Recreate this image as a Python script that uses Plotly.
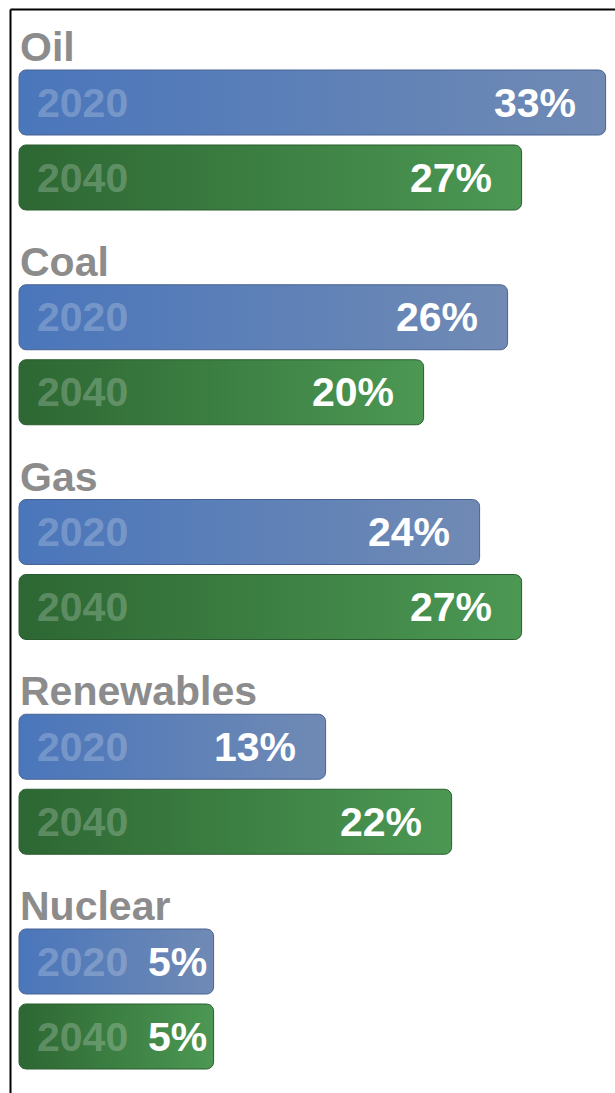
import numpy as np
import plotly.graph_objects as go

# ---- data ----
categories = ["Oil", "Coal", "Gas", "Renewables", "Nuclear"]
years = ["2020", "2040"]
share_2020 = [33, 26, 24, 13, 5]
share_2040 = [27, 20, 27, 22, 5]

# ---- style / layout constants ----
W, H = 615, 1093
BASE = -8.9            # bars start here (room for year label)
PX_PER_UNIT = 14.0
LEFT_PX = 19
X0 = BASE - LEFT_PX / PX_PER_UNIT
X1 = X0 + W / PX_PER_UNIT
GROUP_TOP0 = 70
GROUP_PITCH = 214.75
BAR_H = 65
BAR_GAP = 75
RADIUS = 7

FONT = "Liberation Sans, Arial, Helvetica, sans-serif"
grad = {
    "2020": dict(colorscale=[[0, "#4a76bb"], [1, "#708ab4"]], line="#4a6391"),
    "2040": dict(colorscale=[[0, "#2d6733"], [1, "#4c9853"]], line="#2b5c2f"),
}


def rounded_rect(x0, x1, y0, y1, r_px):
    rx = r_px / PX_PER_UNIT
    ry = r_px
    t = np.linspace(0, np.pi / 2, 8)
    xs, ys = [], []
    cx, cy = x1 - rx, y0 + ry
    xs += list(cx + rx * np.sin(t)); ys += list(cy - ry * np.cos(t))
    cx, cy = x1 - rx, y1 - ry
    xs += list(cx + rx * np.cos(t)); ys += list(cy + ry * np.sin(t))
    cx, cy = x0 + rx, y1 - ry
    xs += list(cx - rx * np.sin(t)); ys += list(cy + ry * np.cos(t))
    cx, cy = x0 + rx, y0 + ry
    xs += list(cx - rx * np.cos(t)); ys += list(cy - ry * np.sin(t))
    xs.append(xs[0]); ys.append(ys[0])
    return xs, ys


fig = go.Figure()
annotations = []
for i, cat in enumerate(categories):
    gtop = GROUP_TOP0 + i * GROUP_PITCH
    annotations.append(dict(
        x=BASE, y=gtop - 23, xref="x", yref="y", text=cat, showarrow=False,
        xanchor="left", yanchor="middle", xshift=-1,
        font=dict(family=FONT, size=41, color="#8c8c8c", weight="bold")))
    for j, (yr, vals) in enumerate(zip(years, [share_2020, share_2040])):
        v = vals[i]
        y0 = gtop + j * BAR_GAP
        y1 = y0 + BAR_H
        xs, ys = rounded_rect(BASE, v, y0, y1, RADIUS)
        fig.add_trace(go.Scatter(
            x=xs, y=ys, mode="lines", fill="toself",
            line=dict(color=grad[yr]["line"], width=1),
            fillgradient=dict(type="horizontal", colorscale=grad[yr]["colorscale"]),
            hoverinfo="skip", showlegend=False))
        ymid = (y0 + y1) / 2
        annotations.append(dict(
            x=BASE, y=ymid, xref="x", yref="y", text=yr, showarrow=False,
            xanchor="left", yanchor="middle", xshift=16,
            font=dict(family=FONT, size=41, color="rgba(255,255,255,0.24)", weight="bold")))
        annotations.append(dict(
            x=v, y=ymid, xref="x", yref="y", text=f"{v}%", showarrow=False,
            xanchor="right", yanchor="middle", xshift=(-28 if v > 10 else -5),
            font=dict(family=FONT, size=41, color="white", weight="bold")))

shapes = [
    dict(type="line", xref="paper", yref="paper", x0=10.5 / W, x1=1, y0=1 - 9.5 / H, y1=1 - 9.5 / H,
         line=dict(color="black", width=2)),
    dict(type="line", xref="paper", yref="paper", x0=10.5 / W, x1=10.5 / W, y0=0, y1=1 - 9.5 / H,
         line=dict(color="black", width=2)),
]

fig.update_layout(
    width=W, height=H, margin=dict(l=0, r=0, t=0, b=0),
    paper_bgcolor="white", plot_bgcolor="white",
    xaxis=dict(range=[X0, X1], visible=False, fixedrange=True),
    yaxis=dict(range=[H, 0], visible=False, fixedrange=True),
    annotations=annotations, shapes=shapes, showlegend=False,
)

fig.write_html("out.html", config={"displayModeBar": False},
               post_script="document.body.style.margin='0';document.body.style.padding='0';")
